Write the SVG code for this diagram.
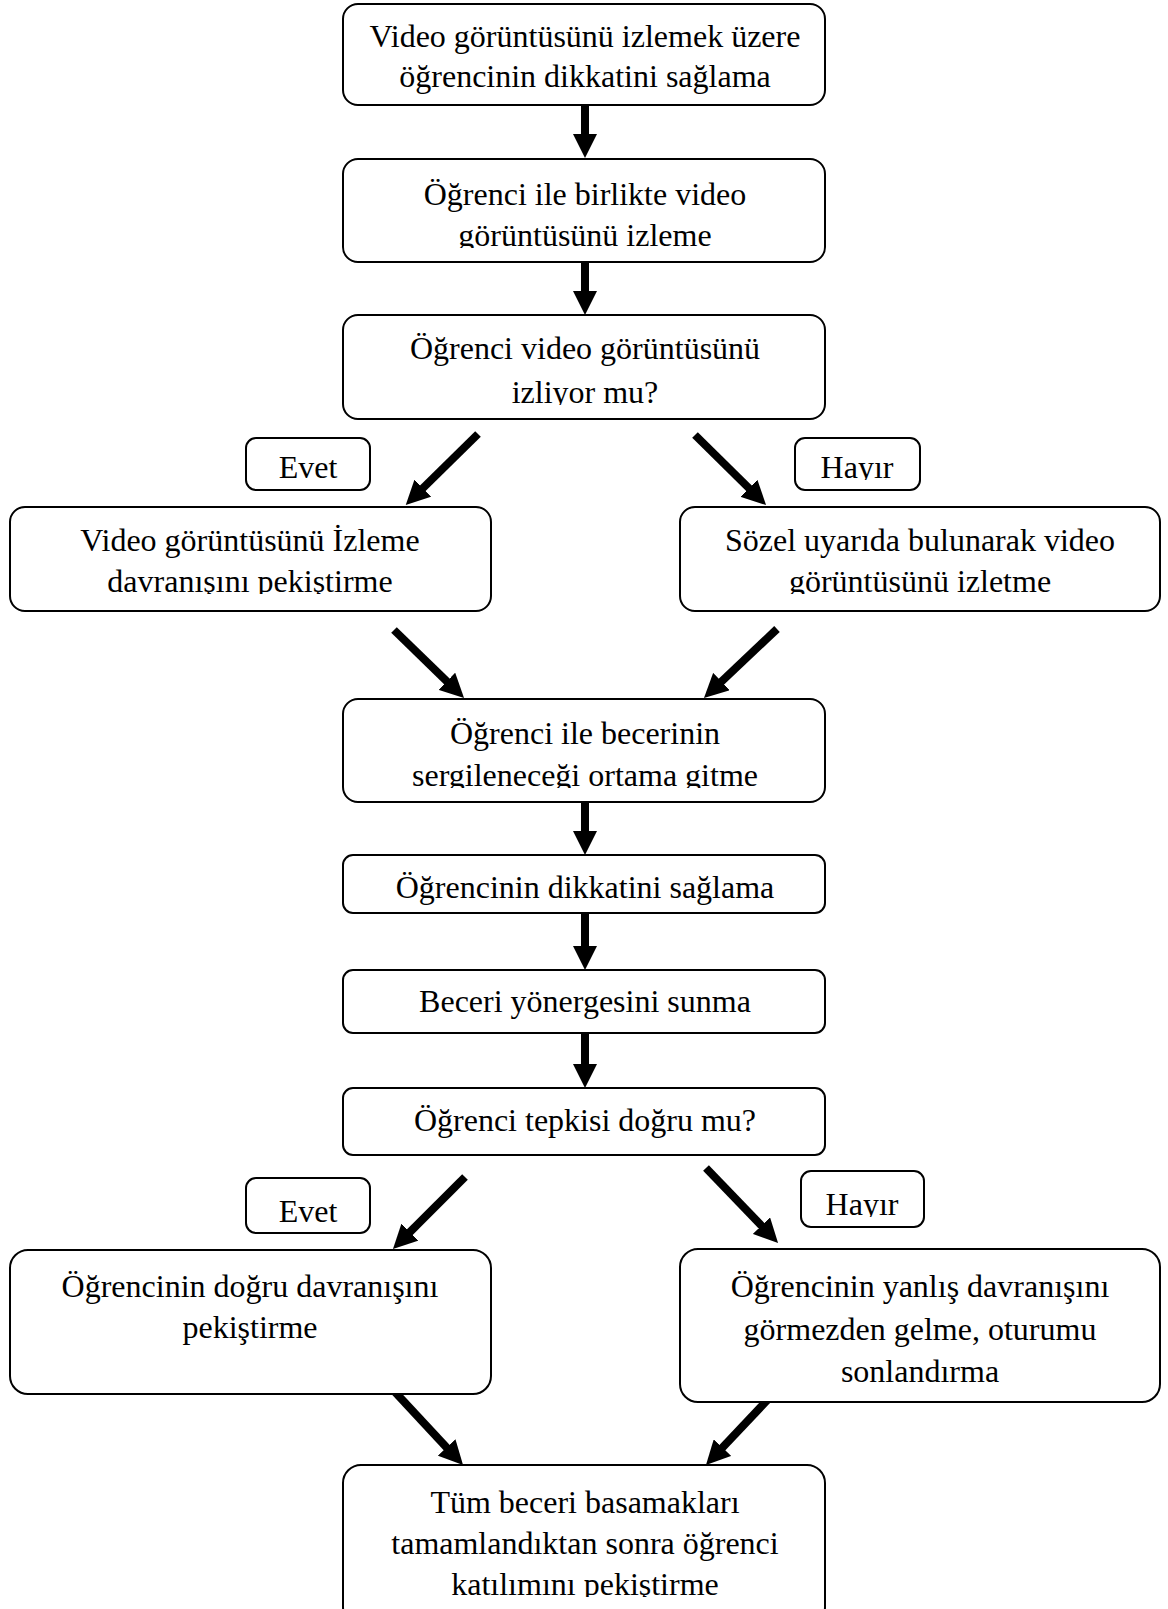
<svg xmlns="http://www.w3.org/2000/svg" width="1168" height="1609" viewBox="0 0 1168 1609">
<style>
.box{fill:#fff;stroke:#000;stroke-width:2}
.t{font-family:"Liberation Serif","Times New Roman",serif;font-size:32px;fill:#000;text-anchor:middle}
.arr{stroke:#000;stroke-width:8;fill:none;marker-end:url(#ah)}
</style>
<defs>
<marker id="ah" viewBox="0 0 24 24" markerWidth="24" markerHeight="24" markerUnits="userSpaceOnUse" refX="4" refY="12" orient="auto">
<path d="M0,0 L24,12 L0,24 z" fill="#000"/>
</marker>
<clipPath id="c2"><rect x="343" y="159" width="482" height="89"/></clipPath>
<clipPath id="c3"><rect x="343" y="315" width="482" height="90"/></clipPath>
<clipPath id="c4"><rect x="10" y="507" width="481" height="87"/></clipPath>
<clipPath id="c5"><rect x="680" y="507" width="480" height="87"/></clipPath>
<clipPath id="c6"><rect x="343" y="699" width="482" height="89"/></clipPath>
<clipPath id="ch1"><rect x="795" y="438" width="125" height="42"/></clipPath>
<clipPath id="ch2"><rect x="801" y="1171" width="123" height="46"/></clipPath>
<clipPath id="c12"><rect x="343" y="1465" width="482" height="132"/></clipPath>
</defs>
<g id="connectors">
<line class="arr" x1="585" y1="105" x2="585" y2="138"/>
<line class="arr" x1="585" y1="262" x2="585" y2="295"/>
<line class="arr" x1="478" y1="434" x2="420" y2="491"/>
<line class="arr" x1="695" y1="435" x2="751.8" y2="491"/>
<line class="arr" x1="394" y1="630" x2="449.7" y2="684.1"/>
<line class="arr" x1="777" y1="629" x2="718.5" y2="684.3"/>
<line class="arr" x1="585" y1="802" x2="585" y2="835"/>
<line class="arr" x1="585" y1="913" x2="585" y2="950"/>
<line class="arr" x1="585" y1="1033" x2="585" y2="1068"/>
<line class="arr" x1="465" y1="1177" x2="407.1" y2="1234.9"/>
<line class="arr" x1="706" y1="1168" x2="764.2" y2="1228.6"/>
<line class="arr" x1="395" y1="1392" x2="449.4" y2="1450.4"/>
<line class="arr" x1="774" y1="1393" x2="719.7" y2="1450.5"/>
</g>
<g id="n1"><rect class="box" x="343" y="4" width="482" height="101" rx="15"/>
<text class="t" x="585" y="47">Video görüntüsünü izlemek üzere</text>
<text class="t" x="585" y="87">öğrencinin dikkatini sağlama</text></g>
<g id="n2"><rect class="box" x="343" y="159" width="482" height="103" rx="15"/>
<g clip-path="url(#c2)"><text class="t" x="585" y="205">Öğrenci ile birlikte video</text>
<text class="t" x="585" y="246">görüntüsünü izleme</text></g></g>
<g id="n3"><rect class="box" x="343" y="315" width="482" height="104" rx="15"/>
<g clip-path="url(#c3)"><text class="t" x="585" y="359">Öğrenci video görüntüsünü</text>
<text class="t" x="585" y="403">izliyor mu?</text></g></g>
<g id="l1"><rect class="box" x="246" y="438" width="124" height="52" rx="10"/>
<text class="t" x="308" y="478">Evet</text></g>
<g id="l2"><rect class="box" x="795" y="438" width="125" height="52" rx="10"/>
<g clip-path="url(#ch1)"><text class="t" x="857" y="478">Hayır</text></g></g>
<g id="n4"><rect class="box" x="10" y="507" width="481" height="104" rx="15"/>
<g clip-path="url(#c4)"><text class="t" x="250" y="551">Video görüntüsünü İzleme</text>
<text class="t" x="250" y="592">davranışını pekiştirme</text></g></g>
<g id="n5"><rect class="box" x="680" y="507" width="480" height="104" rx="15"/>
<g clip-path="url(#c5)"><text class="t" x="920" y="551">Sözel uyarıda bulunarak video</text>
<text class="t" x="920" y="592">görüntüsünü izletme</text></g></g>
<g id="n6"><rect class="box" x="343" y="699" width="482" height="103" rx="15"/>
<g clip-path="url(#c6)"><text class="t" x="585" y="744">Öğrenci ile becerinin</text>
<text class="t" x="585" y="786">sergileneceği ortama gitme</text></g></g>
<g id="n7"><rect class="box" x="343" y="855" width="482" height="58" rx="10"/>
<text class="t" x="585" y="898">Öğrencinin dikkatini sağlama</text></g>
<g id="n8"><rect class="box" x="343" y="970" width="482" height="63" rx="10"/>
<text class="t" x="585" y="1012">Beceri yönergesini sunma</text></g>
<g id="n9"><rect class="box" x="343" y="1088" width="482" height="67" rx="10"/>
<text class="t" x="585" y="1131">Öğrenci tepkisi doğru mu?</text></g>
<g id="l3"><rect class="box" x="246" y="1178" width="124" height="55" rx="10"/>
<text class="t" x="308" y="1222">Evet</text></g>
<g id="l4"><rect class="box" x="801" y="1171" width="123" height="56" rx="10"/>
<g clip-path="url(#ch2)"><text class="t" x="862" y="1215">Hayır</text></g></g>
<g id="n10"><rect class="box" x="10" y="1250" width="481" height="144" rx="18"/>
<text class="t" x="250" y="1297">Öğrencinin doğru davranışını</text>
<text class="t" x="250" y="1338">pekiştirme</text></g>
<g id="n11"><rect class="box" x="680" y="1249" width="480" height="153" rx="18"/>
<text class="t" x="920" y="1297">Öğrencinin yanlış davranışını</text>
<text class="t" x="920" y="1340">görmezden gelme, oturumu</text>
<text class="t" x="920" y="1382">sonlandırma</text></g>
<g id="n12"><rect class="box" x="343" y="1465" width="482" height="160" rx="18"/>
<g clip-path="url(#c12)"><text class="t" x="585" y="1513">Tüm beceri basamakları</text>
<text class="t" x="585" y="1554">tamamlandıktan sonra öğrenci</text>
<text class="t" x="585" y="1595">katılımını pekiştirme</text></g></g>
</svg>
